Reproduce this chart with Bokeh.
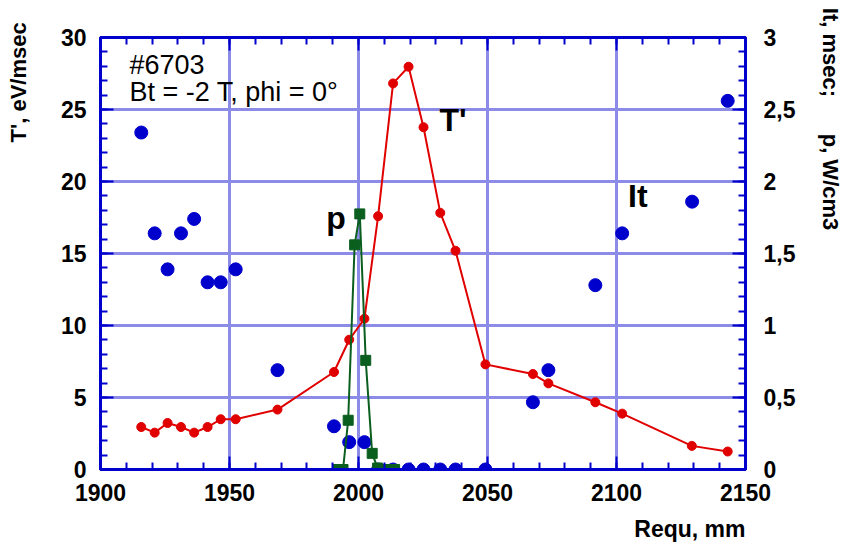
from bokeh.plotting import figure
from bokeh.models import LinearAxis, Range1d, FixedTicker, Label, Title
from bokeh.embed import file_html
from bokeh.resources import INLINE

# ---- data ----
# T' (left axis, eV/msec)
x_t = [1915.8, 1921.0, 1926.0, 1931.2, 1936.3, 1941.5, 1946.6, 1952.4, 1968.6, 1990.5,
       1996.4, 2002.3, 2007.6, 2013.4, 2019.4, 2025.2, 2031.7, 2037.6, 2049.2, 2067.6,
       2073.6, 2091.8, 2102.2, 2129.2, 2143.1]
y_t = [2.95, 2.56, 3.23, 2.95, 2.56, 2.95, 3.49, 3.49, 4.16, 6.77,
       9.01, 10.47, 17.59, 26.81, 27.97, 23.77, 17.82, 15.19, 7.30, 6.63,
       5.98, 4.67, 3.88, 1.64, 1.25]

# It (right axis, msec)
x_it = [1915.8, 1921.0, 1926.0, 1931.2, 1936.3, 1941.5, 1946.6, 1952.4, 1968.6, 1990.5,
        1996.4, 2002.3, 2007.6, 2013.4, 2019.4, 2025.2, 2031.7, 2037.6, 2049.2, 2067.6,
        2073.6, 2091.8, 2102.2, 2129.3, 2143.1]
y_it = [2.34, 1.64, 1.39, 1.64, 1.74, 1.30, 1.30, 1.39, 0.69, 0.30,
        0.19, 0.19, 0.0, 0.0, 0.0, 0.0, 0.0, 0.0, 0.0, 0.467,
        0.69, 1.28, 1.64, 1.86, 2.56]

# p (right axis, W/cm3)
x_p = [1992.0, 1994.0, 1996.0, 1998.5, 2000.5, 2002.8, 2005.3, 2007.4, 2010.8, 2014.0]
y_p = [0.0, 0.0, 0.342, 1.56, 1.775, 0.758, 0.112, 0.01, 0.0, 0.0]

# ticks
x_ticks = [1900, 1950, 2000, 2050, 2100, 2150]
x_minor = list(range(1900, 2151, 10))
y_ticks = [0, 5, 10, 15, 20, 25, 30]
y_minor = list(range(0, 31))
r_ticks = [0, 0.5, 1, 1.5, 2, 2.5, 3]
r_labels = ["0", "0,5", "1", "1,5", "2", "2,5", "3"]
r_minor = [i / 10 for i in range(31)]

left_title = "T', eV/msec"
right_title = "It, msec;" + "\u00a0" * 6 + "p, W/cm3"
x_title = "Requ, mm"

BLUE = "#0000cc"
GRID = "#8c8ce8"
RED = "#e00000"
GREEN = "#0a5e1e"
DOT = "#0000cc"
FONT = "Liberation Sans"
NB = "\u00a0"

p = figure(width=846, height=546, x_range=Range1d(1900, 2150), y_range=Range1d(0, 30),
           output_backend="svg", toolbar_location=None,
           min_border_left=100, min_border_right=99, min_border_top=37, min_border_bottom=77)
p.extra_y_ranges = {"right": Range1d(0, 3)}
p.background_fill_color = "white"
p.border_fill_color = "white"
p.outline_line_color = BLUE
p.outline_line_width = 3


def style_axis(ax, standoff):
    ax.axis_line_color = BLUE
    ax.axis_line_width = 3
    ax.major_tick_line_color = BLUE
    ax.major_tick_line_width = 2
    ax.minor_tick_line_color = BLUE
    ax.minor_tick_line_width = 2
    ax.major_tick_in = 13
    ax.major_tick_out = 0
    ax.minor_tick_in = 7
    ax.minor_tick_out = 0
    ax.major_label_text_font = FONT
    ax.major_label_text_font_size = "23px"
    ax.major_label_text_font_style = "bold"
    ax.major_label_text_color = "black"
    ax.major_label_standoff = standoff
    ax.axis_label_text_font = FONT
    ax.axis_label_text_font_size = "22px"
    ax.axis_label_text_font_style = "bold"
    ax.axis_label_text_color = "black"


p.xaxis.ticker = FixedTicker(ticks=x_ticks, minor_ticks=x_minor)
p.yaxis.ticker = FixedTicker(ticks=y_ticks, minor_ticks=y_minor)
style_axis(p.xaxis[0], 14)
style_axis(p.yaxis[0], 14)
p.yaxis.axis_label = NB * 56 + left_title
p.yaxis.axis_label_standoff = 27

top = LinearAxis(ticker=FixedTicker(ticks=x_ticks, minor_ticks=x_minor))
style_axis(top, 0)
top.major_label_text_alpha = 0
top.major_label_text_font_size = "1px"
p.add_layout(top, "above")

right = LinearAxis(y_range_name="right", ticker=FixedTicker(ticks=r_ticks, minor_ticks=r_minor))
style_axis(right, 18)
right.major_label_overrides = dict(zip(r_ticks, r_labels))
right.axis_label = right_title + NB * 44
right.axis_label_standoff = 20
p.add_layout(right, "right")

p.xgrid.ticker = FixedTicker(ticks=x_ticks)
p.ygrid.ticker = FixedTicker(ticks=y_ticks)
for g in (p.xgrid[0], p.ygrid[0]):
    g.grid_line_color = GRID
    g.grid_line_width = 3

# glyphs
p.scatter(x_it, y_it, y_range_name="right", size=13, color=DOT)
p.line(x_t, y_t, line_color=RED, line_width=2)
p.scatter(x_t, y_t, size=9, color=RED)
p.line(x_p, y_p, y_range_name="right", line_color=GREEN, line_width=2)
p.scatter(x_p, y_p, y_range_name="right", marker="square", size=10, color=GREEN)


def note(x, y, text, size, bold):
    p.add_layout(Label(x=x, y=y, text=text, text_font=FONT, text_font_size=size,
                       text_font_style="bold" if bold else "normal",
                       text_color="black", text_baseline="alphabetic", text_align="left"))


note(1911.2, 28.1, "#6703", "27px", False)
note(1911.2, 26.2, "Bt = -2 T, phi = 0°", "27px", False)
note(1987.5, 17.5, "p", "32px", True)
note(2031.4, 24.25, "T'", "32px", True)
note(2104.5, 19.0, "It", "32px", True)

# spacer + x title
p.add_layout(Title(text=NB, text_font_size="1px", standoff=7), "below")
p.add_layout(Title(text=x_title, align="right", text_font=FONT, text_font_size="23px",
                   text_font_style="bold", text_color="black", standoff=0), "below")

open("out.html", "w").write(file_html(p, INLINE))
